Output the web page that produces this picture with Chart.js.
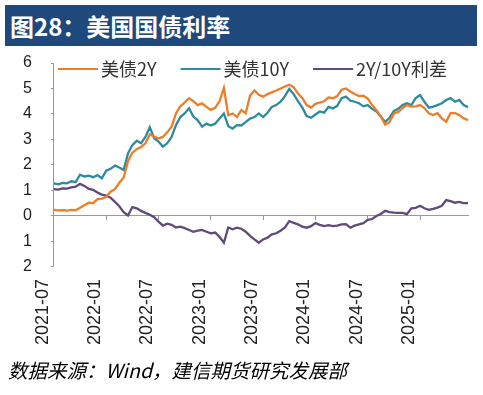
<!DOCTYPE html>
<html>
<head>
<meta charset="utf-8">
<script src="https://cdn.jsdelivr.net/npm/chart.js@4.4.1/dist/chart.umd.min.js"></script>
<style>
body{margin:0;width:483px;height:395px;background:#fff;position:relative;overflow:hidden;font-family:"Noto Sans CJK SC",sans-serif}
#title{position:absolute;left:5px;top:5px;width:472px;height:41px;background:#1F497D;color:#fff;font-size:24px;font-weight:bold;line-height:41px;padding-left:5px;box-sizing:border-box}
#wrap{position:absolute;left:0;top:50px;width:483px;height:311px}
#note{position:absolute;left:8px;top:355px;font-size:19.5px;font-style:italic;color:#000;white-space:nowrap}
</style>
</head>
<body>
<div id="title">图28：美国国债利率</div>
<div id="wrap"><canvas id="c"></canvas></div>
<div id="note">数据来源：Wind，建信期货研究发展部</div>
<script>
// half-month observations, 2021-07 .. 2025-06
const dates = [];
for(let i=0;i<96;i++){
  const m = 6 + Math.floor(i/2);
  const y = 2021 + Math.floor(m/12);
  dates.push(y + '-' + String(m%12+1).padStart(2,'0') + (i%2 ? '-16' : '-01'));
}
const tickLabels = ['2021-07','2022-01','2022-07','2023-01','2023-07','2024-01','2024-07','2025-01'];

const us2y = [0.24,0.22,0.23,0.21,0.24,0.22,0.32,0.42,0.52,0.50,
  0.66,0.68,0.74,0.95,1.05,1.30,1.50,2.15,2.48,2.62,
  2.70,2.85,3.20,3.12,3.04,3.10,3.28,3.50,4.02,4.30,
  4.45,4.62,4.50,4.35,4.42,4.28,4.16,4.24,4.50,5.02,
  3.95,4.02,3.88,4.15,4.03,4.72,4.92,4.75,4.68,4.78,
  4.85,4.92,5.00,5.08,5.15,5.05,4.80,4.62,4.35,4.25,
  4.40,4.45,4.50,4.65,4.62,4.70,4.95,5.00,4.88,4.78,
  4.70,4.72,4.60,4.35,4.15,3.90,3.58,3.68,4.02,4.08,
  4.23,4.35,4.29,4.30,4.35,4.23,4.03,3.96,4.03,3.83,
  3.70,4.03,4.03,3.96,3.83,3.76];
const us10y = [1.28,1.24,1.30,1.28,1.36,1.33,1.62,1.55,1.58,1.52,
  1.60,1.48,1.78,1.85,1.98,1.90,1.80,2.45,2.78,2.95,
  2.85,3.10,3.48,3.05,2.92,2.72,2.85,3.10,3.56,3.88,
  4.02,4.22,3.90,3.75,3.50,3.62,3.55,3.62,3.82,4.02,
  3.52,3.43,3.56,3.55,3.68,3.82,3.88,4.02,3.88,4.05,
  4.28,4.35,4.48,4.70,4.98,4.78,4.50,4.25,3.92,3.85,
  3.98,4.10,4.05,4.28,4.22,4.32,4.62,4.68,4.52,4.48,
  4.42,4.30,4.35,4.20,4.10,3.90,3.68,3.85,4.12,4.20,
  4.35,4.42,4.35,4.62,4.74,4.48,4.25,4.29,4.35,4.42,
  4.55,4.62,4.48,4.55,4.35,4.27];
const spread = [1.05,1.03,1.08,1.07,1.12,1.15,1.26,1.18,1.06,1.02,
  0.92,0.84,0.80,0.72,0.55,0.38,0.15,0.02,0.35,0.30,
  0.20,0.12,0.05,-0.05,-0.22,-0.38,-0.30,-0.35,-0.45,-0.42,
  -0.48,-0.55,-0.62,-0.58,-0.55,-0.62,-0.68,-0.65,-0.82,-1.05,
  -0.45,-0.52,-0.46,-0.50,-0.62,-0.78,-0.92,-1.05,-0.92,-0.85,
  -0.72,-0.68,-0.58,-0.45,-0.20,-0.27,-0.33,-0.42,-0.46,-0.40,
  -0.28,-0.35,-0.40,-0.36,-0.40,-0.38,-0.33,-0.32,-0.46,-0.38,
  -0.33,-0.28,-0.15,-0.12,0.00,0.08,0.20,0.15,0.13,0.12,
  0.12,0.07,0.30,0.32,0.40,0.30,0.24,0.28,0.33,0.40,
  0.62,0.58,0.52,0.55,0.50,0.50];

const axisColor = '#999';

// legend drawn inside the plot, top-left
const lineLegend = {
  id: 'lineLegend',
  afterDraw(chart){
    const ctx = chart.ctx;
    const y = chart.chartArea.top + 6;
    let x = 58;
    ctx.save();
    ctx.font = '18px "Noto Sans CJK SC"';
    ctx.textBaseline = 'middle';
    chart.data.datasets.forEach(ds=>{
      ctx.strokeStyle = ds.borderColor;
      ctx.lineWidth = 2;
      ctx.beginPath(); ctx.moveTo(x, y); ctx.lineTo(x+40, y); ctx.stroke();
      x += 43;
      ctx.fillStyle = '#333';
      ctx.fillText(ds.label, x, y);
      x += ctx.measureText(ds.label).width + 24;
    });
    ctx.restore();
  }
};

function mk(label, data, color){
  return {label, data, borderColor: color, backgroundColor: color, borderWidth: 2.3, pointRadius: 0, tension: 0, fill: false};
}

new Chart(document.getElementById('c'), {
  type: 'line',
  data: {
    labels: dates,
    datasets: [
      mk('美债2Y', us2y, '#EE7D27'),
      mk('美债10Y', us10y, '#2E8AA0'),
      mk('2Y/10Y利差', spread, '#604A7B')
    ]
  },
  options: {
    responsive: true,
    maintainAspectRatio: false,
    animation: false,
    layout: {padding: {left: 4, right: 15, top: 13, bottom: 4}},
    plugins: {legend: {display: false}, tooltip: {enabled: false}},
    scales: {
      x: {
        type: 'category',
        grid: {display: false, drawTicks: false},
        border: {display: false},
        ticks: {
          autoSkip: false, maxRotation: 90, minRotation: 90, padding: 12, labelOffset: -11,
          color: '#222', font: {family: '"Liberation Sans"', size: 18},
          callback: (v, i) => {
            const d = dates[i];
            return (d.endsWith('-01') && tickLabels.includes(d.slice(0,7))) ? d.slice(0,7) : null;
          }
        }
      },
      x2: {
        type: 'category',
        position: {y: 0},
        ticks: {display: false},
        grid: {
          drawOnChartArea: false, drawTicks: true, tickLength: 4,
          color: c => (c.index > 0 && c.index % 12 === 0) ? axisColor : 'rgba(0,0,0,0)'
        },
        border: {display: true, color: axisColor}
      },
      y: {
        min: -2, max: 6,
        afterFit: s => { s.paddingTop = 0; s.paddingBottom = 0; },
        grid: {drawOnChartArea: false, drawTicks: true, tickLength: 3, color: axisColor},
        border: {display: true, color: axisColor},
        ticks: {
          stepSize: 1, padding: 19, color: '#222',
          font: {family: '"Liberation Sans"', size: 16},
          callback: v => String(Math.abs(v))
        }
      }
    }
  },
  plugins: [lineLegend]
});
</script>
</body>
</html>
